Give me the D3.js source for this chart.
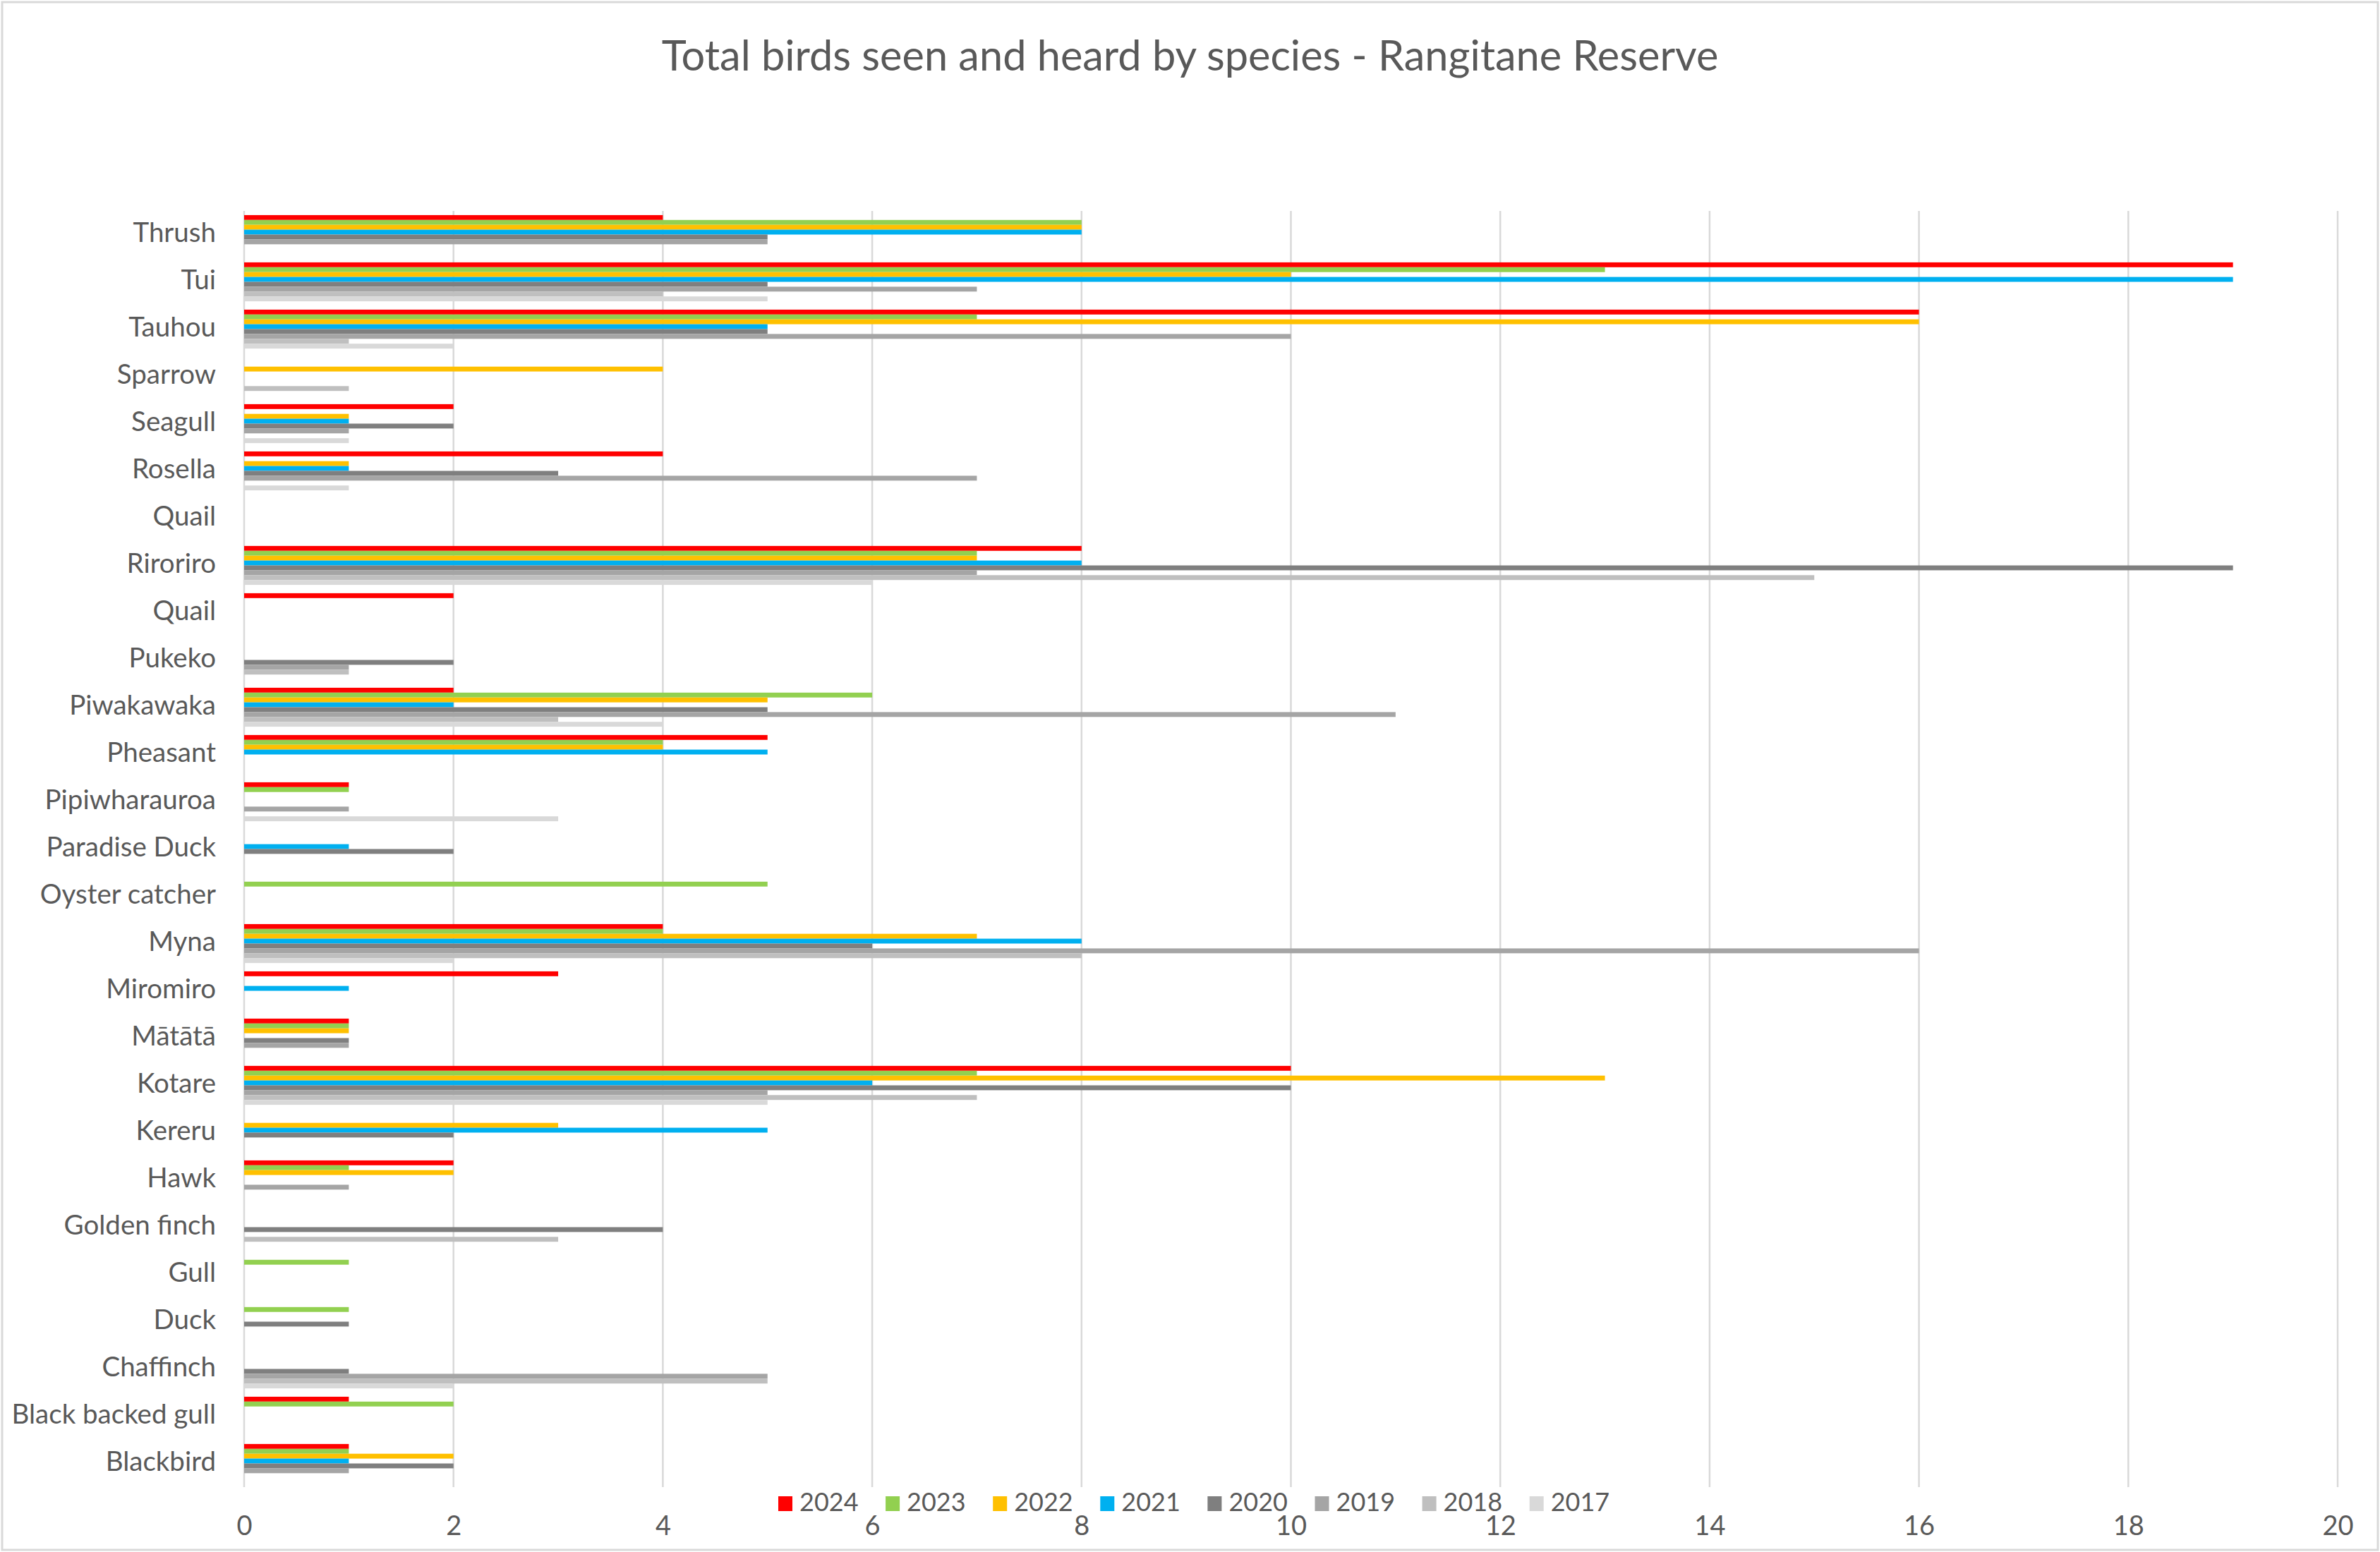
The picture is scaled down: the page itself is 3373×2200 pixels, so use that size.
<!DOCTYPE html>
<html>
<head>
<meta charset="utf-8">
<script src="https://cdn.jsdelivr.net/npm/d3@7"></script>
<style>
  html, body { margin: 0; padding: 0; background: #fff; }
  svg { display: block; }
  text { font-family: Lato, "Open Sans", sans-serif; fill: #595959; }
</style>
</head>
<body>
<script>
// ---------- DATA ----------
const title = "Total birds seen and heard by species - Rangitane Reserve";
const categories = ["Thrush","Tui","Tauhou","Sparrow","Seagull","Rosella","Quail","Riroriro","Quail","Pukeko",
  "Piwakawaka","Pheasant","Pipiwharauroa","Paradise Duck","Oyster catcher","Myna","Miromiro","Mātātā",
  "Kotare","Kereru","Hawk","Golden finch","Gull","Duck","Chaffinch","Black backed gull","Blackbird"];
const seriesNames = ["2024","2023","2022","2021","2020","2019","2018","2017"];
const seriesColors = ["#FF0000","#92D050","#FFC000","#00B0F0","#7F7F7F","#A5A5A5","#BFBFBF","#D9D9D9"];
const xTicks = [0,2,4,6,8,10,12,14,16,18,20];
// values per series, in category order above
const v2024 = [4,19,16,0,2,4,0,8,2,0,2,5,1,0,0,4,3,1,10,0,2,0,0,0,0,1,1];
const v2023 = [8,13,7,0,0,0,0,7,0,0,6,4,1,0,5,4,0,1,7,0,1,0,1,1,0,2,1];
const v2022 = [8,10,16,4,1,1,0,7,0,0,5,4,0,0,0,7,0,1,13,3,2,0,0,0,0,0,2];
const v2021 = [8,19,5,0,1,1,0,8,0,0,2,5,0,1,0,8,1,0,6,5,0,0,0,0,0,0,1];
const v2020 = [5,5,5,0,2,3,0,19,0,2,5,0,0,2,0,6,0,1,10,2,0,4,0,1,1,0,2];
const v2019 = [5,7,10,0,1,7,0,7,0,1,11,0,1,0,0,16,0,1,5,0,1,0,0,0,5,0,1];
const v2018 = [0,4,1,1,0,0,0,15,0,1,3,0,0,0,0,8,0,0,7,0,0,3,0,0,5,0,0];
const v2017 = [0,5,2,0,1,1,0,6,0,0,4,0,3,0,0,2,0,0,5,0,0,0,0,0,2,0,0];
const seriesValues = [v2024,v2023,v2022,v2021,v2020,v2019,v2018,v2017];

// ---------- LAYOUT ----------
const W = 3373, H = 2200;
const plot = {left: 346, right: 3313, top: 299, bottom: 2108};

const svg = d3.select("body").append("svg").attr("width", W).attr("height", H);

svg.append("rect").attr("x", 3).attr("y", 3).attr("width", W - 6).attr("height", H - 6)
  .attr("fill", "#fff").attr("stroke", "#D9D9D9").attr("stroke-width", 3);

const x = d3.scaleLinear().domain([0, 20]).range([plot.left, plot.right]);
const idx = categories.map((d, i) => i);
const y0 = d3.scaleBand().domain(idx).range([plot.top, plot.bottom]).padding(0);
const y1 = d3.scaleBand().domain(seriesNames).range([0, y0.bandwidth()]).paddingInner(0).paddingOuter(0.855);

// gridlines
svg.append("g").selectAll("line").data(xTicks).join("line")
  .attr("x1", d => x(d)).attr("x2", d => x(d))
  .attr("y1", plot.top).attr("y2", plot.bottom)
  .attr("stroke", "#D9D9D9").attr("stroke-width", 2.5);

// bars
const groups = svg.append("g").selectAll("g").data(idx).join("g")
  .attr("transform", i => `translate(0,${y0(i)})`);
groups.selectAll("rect")
  .data(i => seriesNames.map((s, k) => ({s, k, v: seriesValues[k][i]})).filter(d => d.v > 0))
  .join("rect")
  .attr("x", x(0))
  .attr("y", d => y1(d.s))
  .attr("width", d => x(d.v) - x(0))
  .attr("height", y1.bandwidth())
  .attr("fill", d => seriesColors[d.k]);

// category axis
const yAxis = d3.axisLeft(y0).tickSize(0).tickPadding(40).tickFormat(i => categories[i]);
const gy = svg.append("g").attr("transform", `translate(${plot.left},0)`).call(yAxis);
gy.select(".domain").remove();
gy.selectAll("text").attr("font-size", 38.5).attr("dy", "0.28em")
  .style("font-family", "Lato, 'Open Sans', sans-serif").attr("fill", "#595959");

// value axis labels
const xAxis = d3.axisBottom(x).tickValues(xTicks).tickSize(0).tickPadding(0).tickFormat(d3.format("d"));
const gx = svg.append("g").attr("transform", `translate(0,2176)`).call(xAxis);
gx.select(".domain").remove();
gx.selectAll("text").attr("font-size", 38).attr("dy", 0).attr("y", 0)
  .style("font-family", "Lato, 'Open Sans', sans-serif").attr("fill", "#595959");

// title
svg.append("text").attr("x", W / 2).attr("y", 100).attr("text-anchor", "middle")
  .attr("font-size", 59.5).text(title);

// legend
const legend = svg.append("g").selectAll("g").data(seriesNames).join("g")
  .attr("transform", (d, k) => `translate(${1103 + k * 152.1},0)`);
legend.append("rect").attr("x", 0).attr("y", 2121).attr("width", 20).attr("height", 21)
  .attr("fill", (d, k) => seriesColors[k]);
legend.append("text").attr("x", 30).attr("y", 2142).attr("font-size", 36).text(d => d);
</script>
</body>
</html>
